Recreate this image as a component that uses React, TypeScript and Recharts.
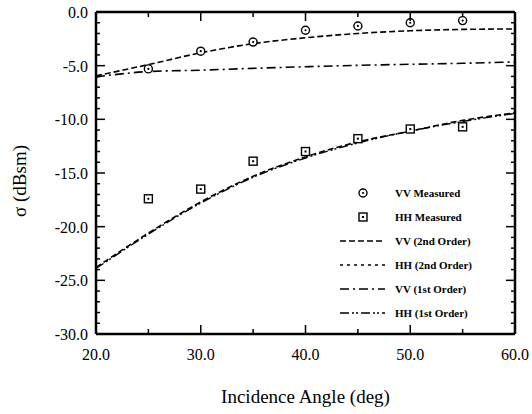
import React from "react";
import { ComposedChart, Line, Scatter, XAxis, YAxis } from "recharts";

const FONT = '"Liberation Serif", "Times New Roman", serif';

// measured data (points every 5 deg)
const measAngles = [25, 30, 35, 40, 45, 50, 55];
const vvMeasured = [-5.3, -3.65, -2.8, -1.7, -1.3, -1.0, -0.8];
const hhMeasured = [-17.4, -16.5, -13.9, -13.0, -11.8, -10.9, -10.7];

// model curves
const modelAngles = [20, 25, 30, 35, 40, 45, 50, 55, 60];
const vv2nd = [-5.95, -4.9, -3.8, -2.95, -2.4, -2.0, -1.75, -1.62, -1.58];
const hh2nd = [-23.8, -20.6, -17.7, -15.3, -13.5, -12.1, -11.1, -10.1, -9.4];
const vv1st = [-6.05, -5.55, -5.42, -5.25, -5.1, -4.97, -4.87, -4.78, -4.65];
const hh1st = [-23.9, -20.7, -17.8, -15.4, -13.6, -12.2, -11.1, -10.2, -9.45];

const xTicks = [20, 25, 30, 35, 40, 45, 50, 55, 60];
const yTicks = [
  0, -1, -2, -3, -4, -5, -6, -7, -8, -9, -10, -11, -12, -13, -14, -15, -16, -17, -18, -19, -20,
  -21, -22, -23, -24, -25, -26, -27, -28, -29, -30,
];

const legendNames = ["VV Measured", "HH Measured", "VV (2nd Order)", "HH (2nd Order)", "VV (1st Order)", "HH (1st Order)"];
const legendDash = ["", "", "6 3", "3 4", "9 4 2 4", "9 3 2 2 2 3"];

const toRows = (xs: number[], ys: number[]) => xs.map((x, i) => ({ x, y: ys[i] }));

const CircleDot = (p: any) => (
  <g>
    <circle cx={p.cx} cy={p.cy} r={4} fill="#fff" stroke="#000" strokeWidth={1.4} />
    <circle cx={p.cx} cy={p.cy} r={1.1} fill="#000" />
  </g>
);

const SquareDot = (p: any) => (
  <g>
    <rect x={p.cx - 4} y={p.cy - 4} width={8} height={8} fill="#fff" stroke="#000" strokeWidth={1.4} />
    <rect x={p.cx - 1} y={p.cy - 1} width={2} height={2} fill="#000" />
  </g>
);

const bottomTick = (p: any) => {
  const v = p.payload.value;
  const major = v % 10 === 0;
  const ay = p.y - 6;
  return (
    <g>
      <line x1={p.x} x2={p.x} y1={ay} y2={ay - (major ? 9 : 5)} stroke="#000" strokeWidth={1.5} />
      {major && (
        <text x={p.x} y={ay + 26} textAnchor="middle" fontSize={16} fontFamily={FONT} fill="#000">
          {v.toFixed(1)}
        </text>
      )}
    </g>
  );
};

const topTick = (p: any) => {
  const v = p.payload.value;
  const major = v % 10 === 0;
  const ay = p.y + 6;
  return <line x1={p.x} x2={p.x} y1={ay} y2={ay + (major ? 9 : 5)} stroke="#000" strokeWidth={1.5} />;
};

const leftTick = (p: any) => {
  const v = p.payload.value;
  const major = v % 5 === 0;
  const ax = p.x + 6;
  return (
    <g>
      <line x1={ax} x2={ax + (major ? 9 : 4)} y1={p.y} y2={p.y} stroke="#000" strokeWidth={1.5} />
      {major && (
        <text x={ax - 8} y={p.y + 6} textAnchor="end" fontSize={16} fontFamily={FONT} fill="#000">
          {v.toFixed(1)}
        </text>
      )}
    </g>
  );
};

const rightTick = (p: any) => {
  const v = p.payload.value;
  const major = v % 5 === 0;
  const ax = p.x - 6;
  return <line x1={ax} x2={ax - (major ? 9 : 4)} y1={p.y} y2={p.y} stroke="#000" strokeWidth={1.5} />;
};

function LegendBox() {
  return (
    <div style={{ position: "absolute", left: 338, top: 181, fontFamily: FONT, fontSize: 11, fontWeight: 600 }}>
      {legendNames.map((name, i) => (
        <div key={name} style={{ display: "flex", alignItems: "center", height: 24 }}>
          <svg width={50} height={24}>
            {i === 0 && <CircleDot cx={25} cy={12} />}
            {i === 1 && <SquareDot cx={25} cy={12} />}
            {i > 1 && <line x1={2} x2={47} y1={12} y2={12} stroke="#000" strokeWidth={1.4} strokeDasharray={legendDash[i]} />}
          </svg>
          <span style={{ marginLeft: 7 }}>{name}</span>
        </div>
      ))}
    </div>
  );
}

export default function App() {
  return (
    <div style={{ position: "absolute", left: 0, top: 0, width: 532, height: 414, background: "#fff" }}>
      <ComposedChart width={532} height={414} margin={{ top: 0, right: 0, bottom: 0, left: 0 }}>
        <XAxis
          xAxisId="b"
          dataKey="x"
          type="number"
          domain={[20, 60]}
          ticks={xTicks}
          height={80}
          tickSize={0}
          tickMargin={6}
          tickLine={false}
          tick={bottomTick}
          axisLine={{ stroke: "#000", strokeWidth: 2.5 }}
          allowDataOverflow
          label={{
            content: (props: any) => {
              const vb = props.viewBox;
              return (
                <text x={vb.x + vb.width / 2} y={vb.y + 69} textAnchor="middle" fontSize={19} fontFamily={FONT} fill="#000">
                  Incidence Angle (deg)
                </text>
              );
            },
          }}
        />
        <XAxis
          xAxisId="t"
          orientation="top"
          dataKey="x"
          type="number"
          domain={[20, 60]}
          ticks={xTicks}
          height={12}
          tickSize={0}
          tickMargin={6}
          tickLine={false}
          tick={topTick}
          axisLine={{ stroke: "#000", strokeWidth: 2.5 }}
          allowDataOverflow
        />
        <YAxis
          yAxisId="l"
          type="number"
          domain={[-30, 0]}
          ticks={yTicks}
          interval={0}
          width={96}
          tickSize={0}
          tickMargin={6}
          tickLine={false}
          tick={leftTick}
          axisLine={{ stroke: "#000", strokeWidth: 2.5 }}
          allowDataOverflow
          label={{
            content: (props: any) => {
              const vb = props.viewBox;
              const cx = vb.x + 22;
              const cy = vb.y + vb.height / 2 + 8;
              return (
                <text x={cx} y={cy} transform={`rotate(-90 ${cx} ${cy})`} textAnchor="middle" dominantBaseline="middle" fontSize={19} fontFamily={FONT} fill="#000">
                  σ (dBsm)
                </text>
              );
            },
          }}
        />
        <YAxis
          yAxisId="r"
          orientation="right"
          type="number"
          domain={[-30, 0]}
          ticks={yTicks}
          interval={0}
          width={17}
          tickSize={0}
          tickMargin={6}
          tickLine={false}
          tick={rightTick}
          axisLine={{ stroke: "#000", strokeWidth: 2.5 }}
          allowDataOverflow
        />
        <Line xAxisId="b" yAxisId="l" data={toRows(modelAngles, vv2nd)} dataKey="y" type="monotone" stroke="#000" strokeWidth={1.6} strokeDasharray="6 3" dot={false} isAnimationActive={false} />
        <Line xAxisId="b" yAxisId="l" data={toRows(modelAngles, vv1st)} dataKey="y" type="monotone" stroke="#000" strokeWidth={1.6} strokeDasharray="9 4 2 4" dot={false} isAnimationActive={false} />
        <Line xAxisId="b" yAxisId="l" data={toRows(modelAngles, hh2nd)} dataKey="y" type="monotone" stroke="#000" strokeWidth={1.6} strokeDasharray="6 3" dot={false} isAnimationActive={false} />
        <Line xAxisId="b" yAxisId="l" data={toRows(modelAngles, hh1st)} dataKey="y" type="monotone" stroke="#000" strokeWidth={1.4} strokeDasharray="9 3 2 2 2 3" dot={false} isAnimationActive={false} />
        <Scatter xAxisId="b" yAxisId="l" data={toRows(measAngles, vvMeasured)} dataKey="y" shape={CircleDot} isAnimationActive={false} />
        <Scatter xAxisId="b" yAxisId="l" data={toRows(measAngles, hhMeasured)} dataKey="y" shape={SquareDot} isAnimationActive={false} />
      </ComposedChart>
      <LegendBox />
    </div>
  );
}
